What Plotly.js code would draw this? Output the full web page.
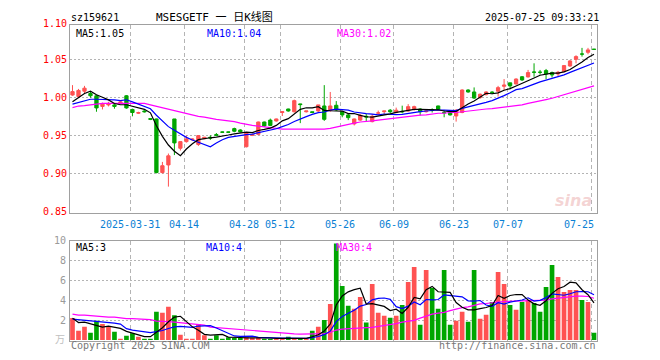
<!DOCTYPE html>
<html><head><meta charset="utf-8">
<script src="https://cdn.plot.ly/plotly-3.0.1.min.js"></script>
<style>html,body{margin:0;padding:0;background:#fff}#chart{width:660px;height:360px}</style>
</head><body><div id="chart"></div>
<script>
// ---- data (index 0 = 2025-03-17 ... 87 = 2025-07-25) ----
const opens  = [1.003,1.001,1.008,1.005,1.002,0.988,0.990,0.990,0.992,1.002,
  0.984,0.979,0.982,0.972,0.9715,0.901,0.911,0.9715,0.933,0.9417,
  0.944,0.938,0.9456,0.9474,0.951,0.9545,0.9545,0.9588,0.957,0.935,
  0.950,0.9513,0.9675,0.970,0.9689,0.980,0.9846,0.981,0.9913,0.981,
  0.981,0.982,0.9886,0.9825,0.9895,0.981,0.9768,0.965,0.970,0.975,
  0.968,0.9792,0.9811,0.983,0.980,0.9815,0.982,0.985,0.9846,0.981,
  0.9835,0.9886,0.980,0.980,0.9754,0.980,1.0096,1.007,0.9996,1.0035,
  1.0068,1.008,1.0145,1.019,1.0175,1.027,1.0268,1.0333,1.033,1.0351,
  1.0325,1.0307,1.0338,1.0412,1.050,1.057,1.0592,1.0632];
const highs  = [1.016,1.011,1.015,1.007,1.003,0.993,0.994,0.992,0.995,1.003,
  0.985,0.981,0.983,0.972,0.972,0.915,0.926,0.9715,0.942,0.9496,
  0.946,0.950,0.948,0.950,0.953,0.955,0.955,0.960,0.958,0.954,
  0.952,0.968,0.968,0.972,0.972,0.981,0.985,0.997,0.9915,0.982,
  0.981,0.990,1.016,1.007,0.995,0.982,0.978,0.972,0.978,0.978,
  0.978,0.9825,0.982,0.9846,0.9864,0.989,0.991,0.989,0.9855,0.983,
  0.9855,0.989,0.9833,0.981,0.9846,1.0105,1.0105,1.013,1.005,1.008,
  1.008,1.015,1.024,1.019,1.025,1.028,1.036,1.0447,1.036,1.0373,
  1.0338,1.0347,1.0425,1.049,1.0553,1.065,1.065,1.0632];
const lows   = [1.002,0.999,1.005,0.9995,0.981,0.984,0.988,0.985,0.991,0.985,
  0.975,0.978,0.980,0.970,0.900,0.8997,0.8825,0.924,0.930,0.9404,
  0.943,0.936,0.945,0.944,0.949,0.9535,0.953,0.954,0.954,0.934,
  0.949,0.950,0.961,0.962,0.968,0.9754,0.981,0.980,0.966,0.980,
  0.979,0.9807,0.969,0.981,0.982,0.9737,0.970,0.963,0.9689,0.968,
  0.967,0.9767,0.978,0.979,0.979,0.979,0.981,0.9825,0.976,0.980,
  0.980,0.984,0.9737,0.976,0.968,0.979,1.006,0.9978,0.998,1.0025,
  1.004,1.001,1.0096,1.0105,1.017,1.0215,1.026,1.027,1.030,1.024,
  1.026,1.028,1.033,1.040,1.0447,1.0535,1.0566,1.0628];
const closes = [1.0075,1.009,1.012,1.002,0.986,0.991,0.992,0.988,0.994,0.986,
  0.980,0.980,0.981,0.971,0.901,0.910,0.923,0.940,0.9417,0.9452,
  0.945,0.9496,0.9474,0.9465,0.950,0.954,0.954,0.9553,0.9544,0.9535,
  0.951,0.9675,0.9623,0.963,0.9715,0.981,0.982,0.9956,0.9904,0.982,
  0.980,0.990,0.971,0.9886,0.9833,0.9768,0.9732,0.9715,0.9763,0.9741,
  0.975,0.9794,0.982,0.981,0.983,0.981,0.9877,0.9877,0.981,0.982,
  0.983,0.9842,0.9795,0.9768,0.983,1.0096,1.007,0.999,1.004,1.007,
  1.0064,1.0127,1.016,1.015,1.024,1.0228,1.0325,1.0329,1.0329,1.0307,
  1.0294,1.0329,1.0417,1.0478,1.0535,1.0568,1.0623,1.0631];
const volumes = [2.2,0.93,1.33,0.73,1.93,1.6,1.33,0.83,0.13,0.43,
  0.67,0.33,0.13,0.13,2.83,2.73,3.33,2.5,0.53,0.13,
  0.13,1.6,0.47,0.13,0.47,0.13,0.27,0.2,0.2,0.27,
  0.2,0.27,0.13,0.13,0.13,0.13,0.33,0.13,0.13,0.13,
  0.93,1.33,2.0,3.63,9.7,5.43,3.43,3.13,4.33,1.77,
  5.63,2.73,2.43,2.23,2.43,3.53,5.83,7.33,1.53,7.03,
  5.23,3.13,7.03,1.53,1.93,2.83,1.83,7.03,2.13,2.53,
  3.83,6.83,5.63,3.53,3.03,3.83,4.03,3.73,2.83,5.33,
  7.53,6.33,4.83,5.03,5.03,4.03,3.83,0.73];
// moving averages: first values (window reaches before the chart)
const ma5Head  = [0.994,0.999,1.005,1.008];
const ma10Head = [0.991,0.9934,0.9956,0.9974,0.9974,0.9974,0.9974,0.9965,0.9956];
const ma30 = [0.9865,0.9885,0.989,0.9905,0.991,0.992,0.992,0.992,0.9925,0.9925,
  0.9925,0.9925,0.992,0.990,0.988,0.986,0.984,0.982,0.981,0.979,
  0.977,0.975,0.974,0.972,0.971,0.970,0.969,0.968,0.966,0.964,
  0.963,0.962,0.961,0.960,0.959,0.958,0.958,0.958,0.958,0.958,
  0.958,0.958,0.958,0.959,0.961,0.963,0.9645,0.966,0.9675,0.968,
  0.969,0.970,0.971,0.972,0.973,0.974,0.975,0.976,0.9765,0.977,
  0.978,0.979,0.979,0.980,0.980,0.981,0.982,0.983,0.984,0.9846,
  0.985,0.986,0.987,0.988,0.989,0.990,0.992,0.994,0.996,0.997,
  0.9987,1.001,1.003,1.005,1.0075,1.010,1.012,1.015];
const volMa5Head  = [2.2,1.75,1.8,1.65];
const volMa10Head = [2.1,2.05,2.0,1.95,1.9,1.85,1.75,1.7,1.6];
const volMa30 = [2.6,2.5,2.5,2.45,2.35,2.35,2.3,2.3,2.2,2.15,
  2.15,2.1,2.1,2.05,1.9,1.9,1.85,1.8,1.75,1.7,
  1.6,1.55,1.5,1.3,1.25,1.2,1.15,1.1,1.0,0.95,
  0.9,0.85,0.8,0.75,0.7,0.68,0.65,0.62,0.6,0.6,
  0.6,0.62,0.65,0.75,1.0,1.1,1.15,1.2,1.22,1.25,
  1.27,1.35,1.45,1.53,1.65,1.8,1.9,1.97,2.2,2.4,
  2.6,2.7,2.77,2.95,3.13,3.25,3.33,3.5,3.63,3.67,
  3.7,3.8,3.87,3.88,3.9,3.9,3.9,3.92,3.93,4.0,
  4.13,4.2,4.27,4.33,4.4,4.4,4.37,4.2];
const tickIdx    = [10,19,29,35,45,54,64,73,87];
const tickLabels = ['2025-03-31','04-14','04-28','05-12','05-26','06-09','06-23','07-07','07-25'];
const priceTicks = [0.85,0.90,0.95,1.00,1.05,1.10];
const priceTickText = ['0.85','0.90','0.95','1.00','1.05','1.10'];
const volTicks = [2,4,6,8,10];
const volTickText = ['2','4','6','8','10'];
const header = {code:'sz159621', title:'MSESGETF 一 日K线图', time:'2025-07-25 09:33:21'};
const maText = ['MA5:1.05','MA10:1.04','MA30:1.02'];
const volMaText = ['MA5:3','MA10:4','MA30:4'];

// ---- helpers ----
function rolling(vals, n, head){
  return vals.map((v,i)=> i < n-1 ? head[i] : vals.slice(i-n+1,i+1).reduce((a,b)=>a+b,0)/n);
}
const idx = closes.map((_,i)=>i);
const RED='#ff5252', GREEN='#00a600';
const W=660, H=360;
const px = x => x/W, py = y => 1 - y/H;
const MONO = 'DejaVu Sans Mono, Noto Sans CJK SC, monospace';
const gridOffset = -0.37;

const traces = [
  {type:'candlestick', x:idx, open:opens, high:highs, low:lows, close:closes,
   xaxis:'x', yaxis:'y', hoverinfo:'skip', whiskerwidth:0,
   increasing:{line:{color:RED,width:1}, fillcolor:RED},
   decreasing:{line:{color:GREEN,width:1}, fillcolor:GREEN}},
  {type:'scatter', mode:'lines', x:idx, y:ma30, xaxis:'x', yaxis:'y', line:{color:'#ff00ff',width:1.2}, hoverinfo:'skip'},
  {type:'scatter', mode:'lines', x:idx, y:rolling(closes,10,ma10Head), xaxis:'x', yaxis:'y', line:{color:'#0000ff',width:1.2}, hoverinfo:'skip'},
  {type:'scatter', mode:'lines', x:idx, y:rolling(closes,5,ma5Head), xaxis:'x', yaxis:'y', line:{color:'#000000',width:1.2}, hoverinfo:'skip'},
  {type:'bar', x:idx, y:volumes, xaxis:'x2', yaxis:'y2', width:0.78,
   marker:{color:closes.map((c,i)=> c>=opens[i]?RED:GREEN), line:{width:0}}, hoverinfo:'skip'},
  {type:'scatter', mode:'lines', x:idx, y:volMa30, xaxis:'x2', yaxis:'y2', line:{color:'#ff00ff',width:1.2}, hoverinfo:'skip'},
  {type:'scatter', mode:'lines', x:idx, y:rolling(volumes,10,volMa10Head), xaxis:'x2', yaxis:'y2', line:{color:'#0000ff',width:1.2}, hoverinfo:'skip'},
  {type:'scatter', mode:'lines', x:idx, y:rolling(volumes,5,volMa5Head), xaxis:'x2', yaxis:'y2', line:{color:'#000000',width:1.2}, hoverinfo:'skip'}
];

const xr = [-0.417, 87.55];
const xDom = [px(70), px(597.3)];
const gridX = tickIdx.map(i=>i+gridOffset);
const axX = {domain:xDom, range:xr, tickvals:gridX, showticklabels:false, ticks:'',
  showgrid:true, gridcolor:'#b4b4b4', griddash:'4px,3px', gridwidth:1, zeroline:false,
  showline:true, mirror:true, linecolor:'#a0a0a0', linewidth:1, fixedrange:true};
const layout = {
  width:W, height:H, margin:{l:0,r:0,t:0,b:0}, showlegend:false,
  paper_bgcolor:'#ffffff', plot_bgcolor:'#ffffff', boxgap:0.22, bargap:0.22,
  xaxis:Object.assign({}, axX, {anchor:'y', rangeslider:{visible:false}}),
  xaxis2:Object.assign({}, axX, {anchor:'y2'}),
  yaxis:{domain:[py(213), py(25)], range:[0.8478,1.0951], tickvals:priceTicks.slice(1,5),
    showticklabels:false, ticks:'', showgrid:true, gridcolor:'#b4b4b4', griddash:'2px,2px',
    zeroline:false, showline:true, mirror:true, linecolor:'#a0a0a0', anchor:'x', fixedrange:true},
  yaxis2:{domain:[py(340.5), py(240.5)], range:[-0.05,10.0], tickvals:volTicks.slice(0,4),
    showticklabels:false, ticks:'', showgrid:true, gridcolor:'#b4b4b4', griddash:'2px,2px',
    zeroline:false, showline:true, mirror:true, linecolor:'#a0a0a0', anchor:'x2', fixedrange:true},
  annotations:[], shapes:[]
};
const A = layout.annotations;
function txt(o){ A.push(Object.assign({showarrow:false, borderpad:0}, o)); }
const f = (size,color)=>({family:MONO, size:size, color:color});

// header
txt({text:header.code, xref:'paper', yref:'paper', x:px(70), y:py(17), xanchor:'left', yanchor:'middle', font:f(10,'#000')});
txt({text:header.title, xref:'paper', yref:'paper', x:px(214.5), y:py(17), xanchor:'center', yanchor:'middle', font:f(11,'#000')});
txt({text:header.time, xref:'paper', yref:'paper', x:px(600), y:py(17), xanchor:'right', yanchor:'middle', font:f(10,'#000')});
// MA labels
const maCols = ['#000000','#0000ff','#ff00ff'];
const maX = [75,206,336];
maText.forEach((t,k)=>txt({text:t, xref:'paper', yref:'paper', x:px(maX[k]), y:py(33.5), xanchor:'left', yanchor:'middle', font:f(10,maCols[k])}));
const vmaX = [75,205,335];
volMaText.forEach((t,k)=>txt({text:t, xref:'paper', yref:'paper', x:px(vmaX[k]), y:py(247.5), xanchor:'left', yanchor:'middle', font:f(10,maCols[k])}));
// price tick labels
priceTicks.forEach((v,k)=>{
  if (v > 1.09) txt({text:priceTickText[k], xref:'paper', yref:'paper', x:px(67.5), y:py(24), xanchor:'right', yanchor:'middle', font:f(10,'#ff0000')});
  else txt({text:priceTickText[k], xref:'paper', yref:'y', x:px(67.5), y:v, xanchor:'right', yanchor:'middle', font:f(10,'#ff0000')});
});
// volume tick labels
volTicks.forEach((v,k)=>txt({text:volTickText[k], xref:'paper', yref:'y2', x:px(66.5), y:v, xanchor:'right', yanchor:'middle', font:f(10,'#9a9a9a')}));
txt({text:'万', xref:'paper', yref:'paper', x:px(66), y:py(339.5), xanchor:'right', yanchor:'middle', font:f(10,'#c0c0c0')});
// date labels
tickIdx.forEach((i,k)=>{
  const last = k === tickIdx.length-1;
  txt({text:tickLabels[k], xref: last?'paper':'x', yref:'paper', x: last? px(595): i+gridOffset, y:py(224),
       xanchor: last?'right':'center', yanchor:'middle', font:f(10,'#0a7fd4')});
});
// footer
txt({text:'Copyright 2025 SINA.COM', xref:'paper', yref:'paper', x:px(69.5), y:py(345.5), xanchor:'left', yanchor:'middle', font:f(10,'#777')});
txt({text:'http://finance.sina.com.cn', xref:'paper', yref:'paper', x:px(597), y:py(345.5), xanchor:'right', yanchor:'middle', font:f(10,'#777')});
// watermark
txt({text:'<i><b>sina</b></i>', xref:'paper', yref:'paper', x:px(573), y:py(200), xanchor:'center', yanchor:'middle',
     font:{family:'DejaVu Sans', size:16, color:'rgba(225,130,130,0.35)'}});

Plotly.newPlot('chart', traces, layout, {staticPlot:true, displayModeBar:false});
</script></body></html>
